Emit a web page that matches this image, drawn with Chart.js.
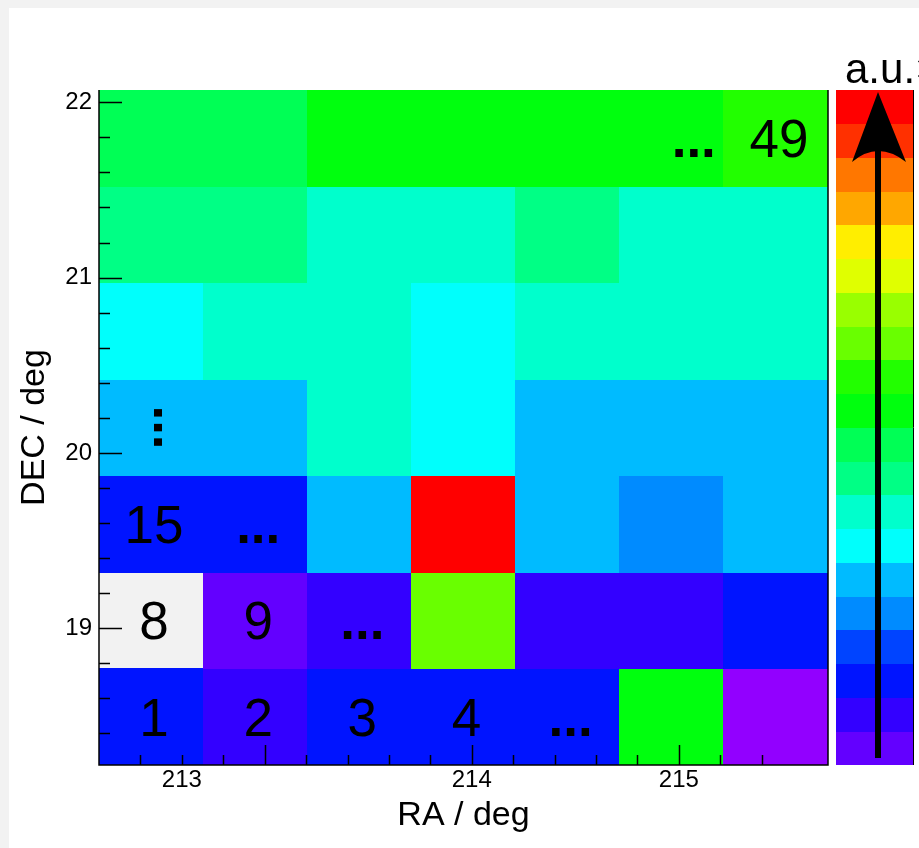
<!DOCTYPE html>
<html>
<head>
<meta charset="utf-8">
<script src="https://cdn.jsdelivr.net/npm/chart.js@4.4.1/dist/chart.umd.min.js"></script>
<style>
  html, body { margin: 0; padding: 0; background: #ffffff; }
  canvas { display: block; }
</style>
</head>
<body>
<canvas id="skymap" width="919" height="848"></canvas>
<script>
// ---- sky-map binning (deg) ----
const raEdges  = [212.2, 212.7029, 213.2057, 213.7086, 214.2114, 214.7143, 215.2171, 215.72];
const decEdges = [18.22, 18.77, 19.32, 19.87, 20.42, 20.97, 21.52, 22.07];

// intensity level (a.u., 0..19) of each bin, rows from lowest DEC upwards; null = empty bin
const levels = [
  [2,    1, 2,  2, 2, 10, -1],
  [null, 0, 1, 12, 1,  1,  2],
  [2,    2, 5, 19, 5,  4,  5],
  [5,    5, 7,  6, 5,  5,  5],
  [6,    7, 7,  6, 7,  7,  7],
  [8,    8, 7,  7, 8,  7,  7],
  [9,    9, 10, 10, 10, 10, 11]
];

// bin numbering written on the map
const binNotes = [
  { col: 0, row: 0, text: '1' },  { col: 1, row: 0, text: '2' },
  { col: 2, row: 0, text: '3' },  { col: 3, row: 0, text: '4' },
  { col: 4, row: 0, text: '...' },
  { col: 0, row: 1, text: '8' },  { col: 1, row: 1, text: '9' },
  { col: 2, row: 1, text: '...' },
  { col: 0, row: 2, text: '15' }, { col: 1, row: 2, text: '...' },
  { col: 0, row: 3, text: '...', vertical: true },
  { col: 5, row: 6, text: '...', alignEnd: true },
  { col: 6, row: 6, text: '49' }
];

// axis ticks and their labels
const raTicks  = [212.4, 212.6, 212.8, 213.0, 213.2, 213.4, 213.6, 213.8, 214.0,
                  214.2, 214.4, 214.6, 214.8, 215.0, 215.2, 215.4];
const raTickLabels  = { '212.6': '213', '214.0': '214', '215.0': '215' };
const decTicks = [18.4, 18.6, 18.8, 19.0, 19.2, 19.4, 19.6, 19.8, 20.0, 20.2,
                  20.4, 20.6, 20.8, 21.0, 21.2, 21.4, 21.6, 21.8, 22.0];
const decTickLabels = { '19.0': '19', '20.0': '20', '21.0': '21', '22.0': '22' };

const N_CONTOURS = 20;   // colour levels on the z scale
const N_HUES = 50;       // violet -> red spectrum

// spectrum palette: hue scanned from violet (280) to red (0)
function levelColor(level) {
  const k = Math.trunc((level + 0.99) * N_HUES / N_CONTOURS);
  const hue = 280 - (k + 1) * 280 / N_HUES;
  return 'hsl(' + hue.toFixed(2) + ',100%,50%)';
}

const cells = [];
levels.forEach((rowVals, r) => rowVals.forEach((v, c) => {
  cells.push({ x: (raEdges[c] + raEdges[c + 1]) / 2, y: (decEdges[r] + decEdges[r + 1]) / 2, v: v, c: c, r: r });
}));

const FONT = '"Liberation Sans", Arial, Helvetica, sans-serif';
Chart.defaults.font.family = FONT;
Chart.defaults.color = '#000';

const keyOf = v => Number(v).toFixed(1);

const skyMapPlugin = {
  id: 'skyMap',
  beforeDraw(chart) {
    const ctx = chart.ctx;
    ctx.save();
    ctx.fillStyle = '#f2f2f2';
    ctx.fillRect(0, 0, chart.width, chart.height);
    ctx.fillStyle = '#ffffff';
    ctx.fillRect(9, 8, chart.width - 9, chart.height - 8);
    ctx.restore();
  },
  beforeDatasetsDraw(chart) {
    const { ctx, chartArea: a, scales: { x, y } } = chart;
    ctx.save();
    ctx.fillStyle = '#f2f2f2';
    ctx.fillRect(a.left, a.top, a.right - a.left, a.bottom - a.top);
    chart.data.datasets[0].data.forEach(d => {
      if (d.v === null) return;
      const x0 = x.getPixelForValue(raEdges[d.c]);
      const x1 = x.getPixelForValue(raEdges[d.c + 1]);
      const y0 = y.getPixelForValue(decEdges[d.r + 1]);
      const y1 = y.getPixelForValue(decEdges[d.r]);
      ctx.fillStyle = levelColor(d.v);
      ctx.fillRect(Math.floor(x0), Math.floor(y0), Math.ceil(x1) - Math.floor(x0), Math.ceil(y1) - Math.floor(y0));
    });
    ctx.restore();
  },
  afterDatasetsDraw(chart) {
    const { ctx, chartArea: a, scales: { x, y, z } } = chart;
    ctx.save();

    // bin numbers (ellipses in bold so the dots read as solid squares)
    ctx.fillStyle = '#000';
    ctx.textBaseline = 'alphabetic';
    binNotes.forEach(n => {
      ctx.font = (n.text === '...' ? 'bold ' : '') + '53px ' + FONT;
      const xl = x.getPixelForValue(raEdges[n.col]);
      const xr = x.getPixelForValue(raEdges[n.col + 1]);
      const yt = y.getPixelForValue(decEdges[n.row + 1]);
      const yb = y.getPixelForValue(decEdges[n.row]);
      const cx = (xl + xr) / 2, cy = (yt + yb) / 2;
      if (n.vertical) {
        ctx.save();
        ctx.translate(cx, cy);
        ctx.rotate(Math.PI / 2);
        ctx.textAlign = 'center';
        ctx.fillText(n.text, 0, -3);
        ctx.restore();
      } else if (n.alignEnd) {
        ctx.textAlign = 'right';
        ctx.fillText(n.text, xr - 8, cy + 19);
      } else {
        ctx.textAlign = 'center';
        ctx.fillText(n.text, cx + 3, cy + 19);
      }
    });

    // inward tick marks
    ctx.strokeStyle = '#000';
    ctx.lineWidth = 1.5;
    ctx.beginPath();
    raTicks.forEach(v => {
      const px = Math.round(x.getPixelForValue(v)) + 0.5;
      const len = Math.abs(v - Math.round(v)) < 1e-6 ? 20 : 10;
      ctx.moveTo(px, a.bottom);
      ctx.lineTo(px, a.bottom - len);
    });
    decTicks.forEach(v => {
      const py = Math.round(y.getPixelForValue(v)) + 0.5;
      const len = Math.abs(v - Math.round(v)) < 1e-6 ? 23 : 11;
      ctx.moveTo(a.left, py);
      ctx.lineTo(a.left + len, py);
    });
    ctx.stroke();

    // frame: left, bottom, right
    ctx.beginPath();
    ctx.moveTo(a.left, a.top);
    ctx.lineTo(a.left, a.bottom);
    ctx.lineTo(a.right, a.bottom);
    ctx.lineTo(a.right, a.top);
    ctx.stroke();

    // colour scale
    const barLeft = a.right + 8, barRight = a.right + 85;
    for (let i = 0; i < N_CONTOURS; i++) {
      const yb = z.getPixelForValue(i);
      const yt = z.getPixelForValue(i + 1);
      ctx.fillStyle = levelColor(i);
      ctx.fillRect(barLeft, Math.floor(yt), barRight - barLeft, Math.ceil(yb) - Math.floor(yt));
    }
    ctx.lineWidth = 1;
    ctx.beginPath();
    ctx.moveTo(barRight + 0.5, z.getPixelForValue(N_CONTOURS));
    ctx.lineTo(barRight + 0.5, z.getPixelForValue(0));
    ctx.stroke();

    // arrow along the colour scale
    const ax = barLeft + 42;
    const topY = z.getPixelForValue(N_CONTOURS) + 2;
    ctx.lineWidth = 6;
    ctx.lineCap = 'butt';
    ctx.beginPath();
    ctx.moveTo(ax, z.getPixelForValue(0) - 7);
    ctx.lineTo(ax, topY + 55);
    ctx.stroke();
    ctx.fillStyle = '#000';
    ctx.beginPath();
    ctx.moveTo(ax, topY);
    ctx.lineTo(ax + 28, topY + 70);
    ctx.quadraticCurveTo(ax, topY + 48, ax - 26, topY + 70);
    ctx.closePath();
    ctx.fill();

    // z axis unit
    ctx.font = '42px ' + FONT;
    ctx.textAlign = 'left';
    ctx.textBaseline = 'alphabetic';
    ctx.fillText('a.u.\u00d7', barLeft + 9, a.top - 7);

    ctx.restore();
  }
};

new Chart(document.getElementById('skymap'), {
  type: 'scatter',
  data: {
    datasets: [{
      data: cells,
      pointRadius: 0,
      pointHoverRadius: 0
    }]
  },
  options: {
    responsive: false,
    animation: false,
    devicePixelRatio: 1,
    events: [],
    layout: { padding: { left: 0, top: 90, right: 91, bottom: 0 } },
    plugins: { legend: { display: false }, tooltip: { enabled: false } },
    scales: {
      x: {
        type: 'linear',
        position: 'bottom',
        min: raEdges[0],
        max: raEdges[raEdges.length - 1],
        grid: { display: false, drawTicks: false },
        border: { display: false },
        afterBuildTicks: s => { s.ticks = raTicks.map(v => ({ value: v })); },
        afterFit: s => { s.height = 83; },
        ticks: {
          autoSkip: false, maxRotation: 0, minRotation: 0, padding: 1,
          font: { size: 24 }, color: '#000',
          callback: v => raTickLabels[keyOf(v)] || ''
        },
        title: { display: true, text: 'RA / deg', font: { size: 34 }, color: '#000', padding: { top: 0, bottom: 12 } }
      },
      y: {
        type: 'linear',
        position: 'left',
        min: decEdges[0],
        max: decEdges[decEdges.length - 1],
        grid: { display: false, drawTicks: false },
        border: { display: false },
        afterBuildTicks: s => { s.ticks = decTicks.map(v => ({ value: v })); },
        afterFit: s => { s.width = 99; },
        ticks: {
          autoSkip: false, padding: 7,
          font: { size: 24 }, color: '#000',
          callback: v => decTickLabels[keyOf(v)] || ''
        },
        title: { display: true, text: 'DEC / deg', font: { size: 34 }, color: '#000', padding: { top: 14, bottom: 0 } }
      },
      z: {
        type: 'linear',
        position: 'right',
        display: false,
        min: 0,
        max: N_CONTOURS
      }
    }
  },
  plugins: [skyMapPlugin]
});
</script>
</body>
</html>
